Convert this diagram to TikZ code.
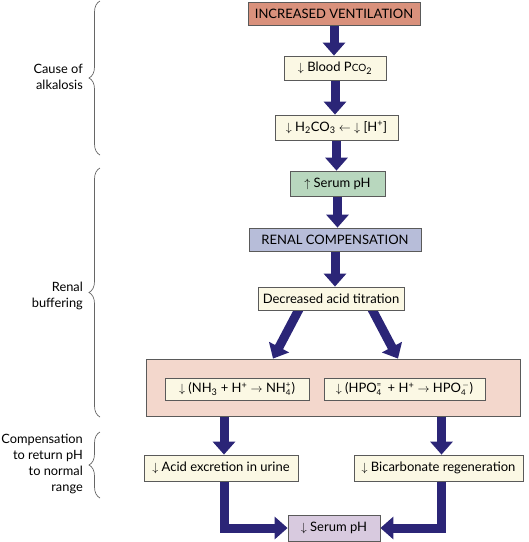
\documentclass[tikz,border=0pt]{standalone}
\usepackage{amsmath}
\usepackage{fontspec}
\setmainfont{Lato}
\usetikzlibrary{arrows.meta,decorations.pathreplacing,calc}
\pgfdeclarelayer{bg}
\pgfsetlayers{bg,main}
\definecolor{navy}{RGB}{43,37,119}
\definecolor{salmon}{RGB}{217,145,124}
\definecolor{cream}{RGB}{251,248,228}
\definecolor{greenbox}{RGB}{184,215,190}
\definecolor{bluebox}{RGB}{183,189,217}
\definecolor{pinkbox}{RGB}{243,215,204}
\definecolor{lavbox}{RGB}{216,202,223}
\definecolor{edge}{RGB}{90,90,90}
\newcommand{\myDown}{$\downarrow$}
\newcommand{\myUp}{$\uparrow$}
\newcommand{\sbs}[1]{$_{\text{#1}}$}
\newcommand{\stk}[2]{\rlap{\raisebox{0.75ex}{\fontsize{8}{8}\selectfont #1}}\raisebox{-0.45ex}{\fontsize{8}{8}\selectfont #2}}
\tikzset{
  box/.style={draw=edge, line width=0.8pt, inner sep=0pt, align=center,
    font=\fontsize{13}{15}\selectfont},
  flow/.style={draw=navy, line width=9pt, line join=miter,
    -{Triangle[width=22pt,length=13pt]}},
  bracestyle/.style={draw=black!60, line width=0.7pt, decorate,
    decoration={brace, amplitude=11pt, aspect=0.5}},
  side/.style={anchor=east, align=right, font=\fontsize{12.8}{16}\selectfont, inner sep=0pt}
}
\begin{document}
\begin{tikzpicture}[x=1pt,y=-1pt]
\useasboundingbox (0,0) rectangle (529,542);
% boxes
\node[box, fill=salmon, minimum width=172pt, minimum height=23pt] (iv) at (334,13.5) {INCREASED VENTILATION};
\node[box, fill=cream, minimum width=102pt, minimum height=24pt] (bp) at (335,68) {\myDown\ Blood P{\fontsize{10}{10}\selectfont CO}\sbs{2}};
\node[box, fill=cream, minimum width=123pt, minimum height=25pt] (hc) at (336.5,127.5) {\myDown\ H\sbs{2}CO\sbs{3} $\leftarrow$ \myDown\ [H$^{\text{+}}$]};
\node[box, fill=greenbox, minimum width=95pt, minimum height=25pt] (sp) at (337.5,183.5) {\myUp\ Serum pH};
\node[box, fill=bluebox, minimum width=172pt, minimum height=23pt] (rc) at (335,239.5) {RENAL COMPENSATION};
\node[box, fill=cream, minimum width=146pt, minimum height=23pt] (dat) at (331,298.5) {Decreased acid titration};
\node[box, fill=pinkbox, minimum width=374pt, minimum height=57pt] (big) at (333,387.5) {};
\node[box, fill=cream, minimum width=144pt, minimum height=22pt] (nh) at (237,389) {\myDown\ (NH\sbs{3} + H$^{\text{+}}$ $\rightarrow$ NH\stk{+}{4}\hspace{1pt})};
\node[box, fill=cream, minimum width=161pt, minimum height=22pt] (hpo) at (404.5,389) {\myDown\ (HPO\stk{=}{4}\hspace{3pt} + H$^{\text{+}}$ $\rightarrow$ HPO\stk{\,$-$}{4}\hspace{4pt})};
\node[box, fill=cream, minimum width=154pt, minimum height=26pt] (ae) at (221,468) {\myDown\ Acid excretion in urine};
\node[box, fill=cream, minimum width=169pt, minimum height=26pt] (br) at (438.5,468) {\myDown\ Bicarbonate regeneration};
\node[box, fill=lavbox, minimum width=92pt, minimum height=26pt] (spd) at (334,528) {\myDown\ Serum pH};
% connectors
\begin{pgfonlayer}{bg}
\draw[flow] (iv.south) -- (iv.south |- bp.north);
\draw[flow] (bp.south) -- (bp.south |- hc.north);
\draw[flow] (hc.south) -- (hc.south |- sp.north);
\draw[flow] (sp.south) -- (sp.south |- rc.north);
\draw[flow] (rc.south) -- (rc.south |- dat.north);
\coordinate (dls) at (300,0 |- dat.south);
\coordinate (drs) at (371,0 |- dat.south);
\coordinate (tl) at (273,0 |- big.north);
\coordinate (tr) at (398,0 |- big.north);
\draw[flow] ($(dls)+(0,-3)$) -- (tl);
\draw[flow] ($(drs)+(0,-3)$) -- (tr);
\coordinate (aet) at ($(ae.north)+(3,0)$);
\coordinate (aeb) at ($(ae.south)+(3,0)$);
\coordinate (brt) at ($(br.north)+(3,0)$);
\coordinate (brb) at ($(br.south)+(3,0)$);
\draw[flow] (big.south -| aet) -- (aet);
\draw[flow] (big.south -| brt) -- (brt);
\draw[flow] (aeb) |- (spd.west);
\draw[flow] (brb) |- (spd.east);
\end{pgfonlayer}
% braces
\coordinate (b1t) at (100,1);
\coordinate (b1b) at (100,155);
\coordinate (b2t) at (100,168);
\coordinate (b2b) at (100,417);
\coordinate (b3t) at (100,432);
\coordinate (b3b) at (100,498);
\draw[bracestyle] (b1b) -- (b1t);
\draw[bracestyle] (b2b) -- (b2t);
\draw[bracestyle] (b3b) -- (b3t);
\node[side] (l1) at (83,77) {Cause of\\alkalosis};
\node[side] (l2) at (83,296) {Renal\\buffering};
\node[side] (l3) at (83,464) {Compensation\\to return pH\\to normal\\range};
\end{tikzpicture}
\end{document}
